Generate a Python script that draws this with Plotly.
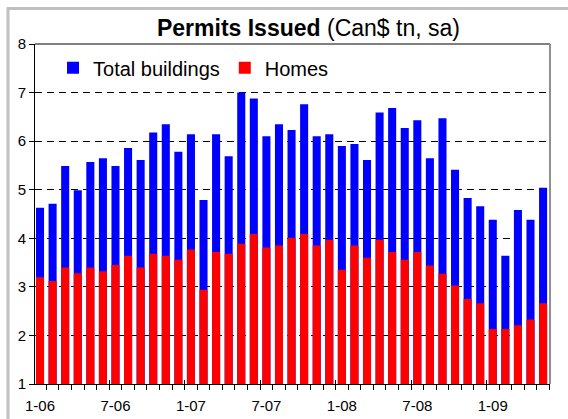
import pandas as pd
import plotly.graph_objects as go

# ---- data ----
months = pd.date_range("2006-01-01", "2009-05-01", freq="MS")
month_labels = [f"{d.month}-{d.strftime('%y')}" for d in months]
total_buildings = [4.63, 4.71, 5.49, 4.99, 5.57, 5.65, 5.49, 5.86, 5.61, 6.18,
                   6.35, 5.78, 6.14, 4.79, 6.14, 5.69, 7.00, 6.88, 6.10, 6.35,
                   6.23, 6.76, 6.10, 6.14, 5.90, 5.94, 5.61, 6.59, 6.68, 6.27,
                   6.43, 5.65, 6.47, 5.41, 4.83, 4.66, 4.38, 3.64, 4.58, 4.38, 5.04]
homes = [3.20, 3.12, 3.40, 3.28, 3.40, 3.32, 3.45, 3.64, 3.40, 3.68,
         3.64, 3.56, 3.77, 2.94, 3.72, 3.68, 3.89, 4.09, 3.81, 3.85,
         4.01, 4.09, 3.85, 3.97, 3.35, 3.85, 3.60, 3.97, 3.72, 3.56,
         3.72, 3.44, 3.27, 3.03, 2.75, 2.66, 2.13, 2.13, 2.21, 2.33, 2.66]
tick_labels = ["1-06", "7-06", "1-07", "7-07", "1-08", "7-08", "1-09"]
y_ticks = [1, 2, 3, 4, 5, 6, 7, 8]

x = list(range(len(month_labels)))
tick_pos = [month_labels.index(t) for t in tick_labels]
major_bounds = [p - 0.5 for p in tick_pos]

FONT = "Arial, Liberation Sans, sans-serif"

fig = go.Figure()
fig.add_trace(go.Bar(x=x, y=total_buildings, name="Total buildings",
                     marker=dict(color="#0000FF", line=dict(width=0)), width=0.64,
                     hoverinfo="skip"))
fig.add_trace(go.Bar(x=x, y=homes, name="Homes",
                     marker=dict(color="#FF0000", line=dict(width=0)), width=0.64,
                     hoverinfo="skip"))
fig.add_trace(go.Scatter(x=[None], y=[None], xaxis="x2", showlegend=False,
                         hoverinfo="skip"))

xr = [-0.4, len(x) - 0.45]

fig.update_layout(
    width=568, height=419,
    margin=dict(l=35, r=18, t=44, b=35, autoexpand=False),
    paper_bgcolor="white", plot_bgcolor="white",
    barmode="overlay",
    font=dict(family=FONT, color="black"),
    title=dict(text="<b>Permits Issued</b> (Can$ tn, sa)",
               font=dict(size=23, family=FONT, color="black"),
               x=0.531, xref="paper", xanchor="center",
               y=1 - 28 / 419, yref="container", yanchor="middle"),
    legend=dict(orientation="h", x=0.035, xanchor="left", y=0.93, yanchor="middle",
                font=dict(size=20, family=FONT), bgcolor="rgba(0,0,0,0)"),
    xaxis=dict(range=xr, tickmode="array", tickvals=tick_pos, ticktext=tick_labels,
               ticks="", showgrid=False, zeroline=False, automargin=False,
               showline=True, linecolor="black", linewidth=1,
               tickfont=dict(size=15), ticklabelstandoff=8,
               minor=dict(tickmode="linear", tick0=0.5, dtick=1, ticks="outside",
                          ticklen=5, tickcolor="black", tickwidth=1, showgrid=False)),
    xaxis2=dict(range=xr, overlaying="x", anchor="y", side="bottom",
                tickmode="array", tickvals=major_bounds, ticks="inside", ticklen=4,
                tickcolor="black", showticklabels=False, showgrid=False,
                zeroline=False, showline=False, automargin=False),
    yaxis=dict(range=[1, 8], tickmode="array", tickvals=y_ticks,
               ticks="outside", ticklen=5, tickcolor="black", automargin=False,
               showline=True, linecolor="black", linewidth=1,
               showgrid=True, gridcolor="black", gridwidth=1, griddash="7px,5px",
               zeroline=False, tickfont=dict(size=15)),
    shapes=[
        # plot frame (top & right)
        dict(type="line", xref="paper", yref="paper", x0=0, x1=1, y0=1, y1=1,
             line=dict(color="#808080", width=2), layer="above"),
        dict(type="line", xref="paper", yref="paper", x0=1, x1=1, y0=0, y1=1,
             line=dict(color="#909090", width=2), layer="above"),
        # outer chart frame
        dict(type="rect", xref="paper", yref="paper",
             x0=(8 - 35) / 515, x1=1.1, y0=-0.2, y1=(384 - 8.5) / 340,
             line=dict(color="#C0C0C0", width=3), layer="above"),
    ],
)

fig.write_html("out.html", config={"displayModeBar": False},
               post_script="document.body.style.margin='0';document.body.style.overflow='hidden';")
